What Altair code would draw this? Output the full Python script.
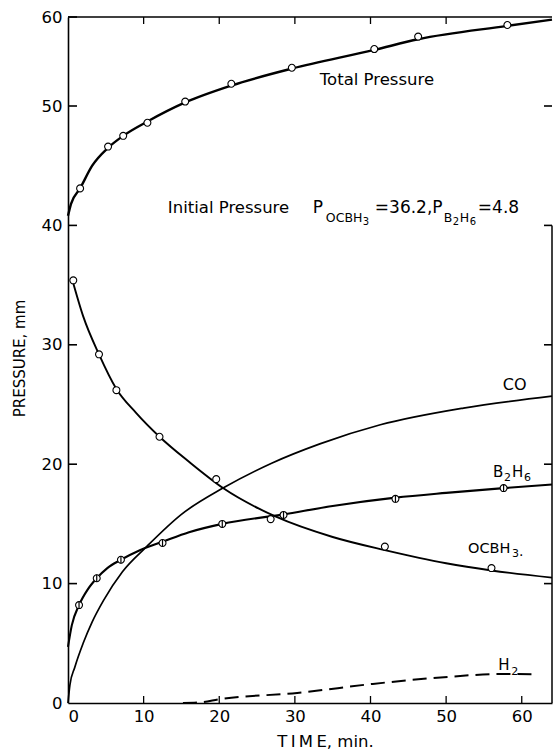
import altair as alt
import pandas as pd

# ---------------- data ----------------
# Total pressure: fitted curve and measured points
total_curve_t = [0, 0.4, 1.6, 3.2, 5.3, 7.3, 10.5, 15.5, 21.6, 29.6, 40.5, 46.3, 58.1, 64.0]
total_curve_p = [40.8, 41.8, 43.1, 45.0, 46.5, 47.5, 48.7, 50.4, 52.3, 54.2, 56.3, 57.5, 59.0, 59.7]
total_pts_t = [1.6, 5.3, 7.3, 10.5, 15.5, 21.6, 29.6, 40.5, 46.3, 58.1]
total_pts_p = [43.1, 46.6, 47.5, 48.6, 50.5, 52.5, 54.3, 56.4, 57.8, 59.1]

# OCBH3
ocbh3_curve_t = [0.5, 2.0, 4.1, 6.4, 9.0, 12.1, 16.0, 20.5, 27.5, 35.0, 41.9, 50.0, 56.0, 64.0]
ocbh3_curve_p = [35.6, 32.4, 29.2, 26.3, 24.3, 22.3, 20.2, 18.0, 15.6, 13.9, 12.8, 11.7, 11.1, 10.5]
ocbh3_pts_t = [0.7, 4.1, 6.4, 12.1, 19.6, 26.8, 41.9, 56.0]
ocbh3_pts_p = [35.4, 29.2, 26.2, 22.3, 18.75, 15.4, 13.1, 11.3]

# B2H6
b2h6_curve_t = [0, 0.5, 1.46, 2.6, 3.8, 5.2, 7.0, 9.5, 12.5, 16.0, 20.4, 28.5, 35.0, 43.3, 50.0, 57.6, 64.0]
b2h6_curve_p = [4.7, 6.5, 8.2, 9.5, 10.45, 11.3, 12.0, 12.8, 13.5, 14.3, 15.0, 15.8, 16.5, 17.2, 17.6, 18.0, 18.3]
b2h6_pts_t = [1.46, 3.8, 7.0, 12.5, 20.4, 28.5, 43.3, 57.6]
b2h6_pts_p = [8.2, 10.45, 12.0, 13.4, 15.0, 15.75, 17.1, 18.0]

# CO (curve only)
co_curve_t = [0, 0.25, 0.9, 2.0, 3.2, 4.7, 7.2, 10.4, 15.0, 20.5, 27.0, 33.3, 41.3, 52.3, 64.0]
co_curve_p = [0, 1.5, 3.0, 5.0, 6.8, 8.6, 11.0, 13.1, 15.8, 18.0, 20.1, 21.7, 23.3, 24.7, 25.7]

# H2 (dashed curve)
h2_curve_t = [15.2, 17.5, 20.1, 30.3, 40.3, 50.5, 57.1, 62.2]
h2_curve_p = [0.0, 0.06, 0.33, 0.84, 1.6, 2.2, 2.43, 2.4]

x_ticks = [0, 10, 20, 30, 40, 50, 60]
y_ticks = [0, 10, 20, 30, 40, 50, 60]

# ---------------- chart ----------------
FONT = "DejaVu Sans"
W, H = 484, 686
XTITLE = "T\u2009I\u2009M\u2009E, min."
YTITLE = "PRESSURE, mm"
xs = alt.Scale(domain=[0, 64.0], nice=False, zero=False)
ys = alt.Scale(domain=[0, 50, 60], range=[H, 89, 0], nice=False, zero=False)

x_axis = alt.Axis(values=x_ticks, ticks=False, domain=True, domainColor="black", domainWidth=1.6,
                  grid=False, labelFontSize=16.5,
                  labelPadding=5, labelFont=FONT, labelColor="black", title=XTITLE,
                  titleFont=FONT, titleFontSize=16.5, titleFontWeight="normal", titleColor="black",
                  titleX=257, titleY=38, titleBaseline="middle", titleAlign="center")
y_axis = alt.Axis(values=y_ticks, ticks=False, domain=True, domainColor="black", domainWidth=1.6,
                  grid=False, labelFontSize=16.5,
                  labelPadding=6, labelFont=FONT, labelColor="black", title=YTITLE,
                  titleFont=FONT, titleFontSize=15, titleFontWeight="normal", titleColor="black",
                  titleX=-49, titleY=341, titleBaseline="middle", titleAlign="center", titleAngle=270)


def curve_df(t, p):
    return pd.DataFrame({"t": t, "p": p})


def X():
    return alt.X("t:Q", scale=xs, axis=x_axis, title=XTITLE)


def Y():
    return alt.Y("p:Q", scale=ys, axis=y_axis, title=YTITLE)


layers = []


def line(t, p, width, dash=None):
    kw = dict(color="black", strokeWidth=width, interpolate="monotone")
    if dash:
        kw["strokeDash"] = dash
    return alt.Chart(curve_df(t, p)).mark_line(**kw).encode(x=X(), y=Y())


layers.append(line(total_curve_t, total_curve_p, 2.4))
layers.append(line(ocbh3_curve_t, ocbh3_curve_p, 1.9))
layers.append(line(b2h6_curve_t, b2h6_curve_p, 2.1))
layers.append(line(co_curve_t, co_curve_p, 1.7))
layers.append(line(h2_curve_t, h2_curve_p, 2.0, dash=[14, 7]))


def circles(t, p):
    return alt.Chart(curve_df(t, p)).mark_point(
        shape="circle", filled=True, fill="white", stroke="black", strokeWidth=1.1,
        size=48, opacity=1).encode(x=X(), y=Y())


layers.append(circles(total_pts_t, total_pts_p))
layers.append(circles(ocbh3_pts_t, ocbh3_pts_p))
layers.append(circles(b2h6_pts_t, b2h6_pts_p))
layers.append(alt.Chart(curve_df(b2h6_pts_t, b2h6_pts_p)).mark_point(
    shape="M0,-1L0,1", stroke="black", strokeWidth=1.2, size=55, opacity=1,
    filled=False).encode(x=X(), y=Y()))

# frame: top edge, and the right side (drawn from 40 downward as in the scan)
layers.append(alt.Chart(pd.DataFrame({"p": [60]})).mark_rule(color="black", strokeWidth=1.5).encode(
    y=Y(), x=alt.value(0), x2=alt.value(W)))
layers.append(alt.Chart(pd.DataFrame({"p": [40]})).mark_rule(color="black", strokeWidth=1.5).encode(
    x=alt.value(W), y=Y(), y2=alt.value(H)))

# inward tick marks on all four sides
xt = pd.DataFrame({"t": x_ticks[1:]})
yt = pd.DataFrame({"p": y_ticks[1:]})
layers.append(alt.Chart(xt).mark_rule(color="black", strokeWidth=1.3).encode(
    x=X(), y=alt.value(H), y2=alt.value(H - 7)))
layers.append(alt.Chart(xt[xt.t < 60]).mark_rule(color="black", strokeWidth=1.3).encode(
    x=X(), y=alt.value(0), y2=alt.value(7)))
layers.append(alt.Chart(yt).mark_rule(color="black", strokeWidth=1.6).encode(
    y=Y(), x=alt.value(0), x2=alt.value(9)))
layers.append(alt.Chart(yt[yt.p < 60]).mark_rule(color="black", strokeWidth=1.6).encode(
    y=Y(), x=alt.value(W), x2=alt.value(W - 8)))

# text annotations (parts: text, dx, dy, size)
one = pd.DataFrame({"a": [0]})


def label(x, y, parts):
    for txt, dx, dy, size in parts:
        layers.append(alt.Chart(one).mark_text(
            text=txt, align="left", baseline="alphabetic", dx=dx, dy=dy,
            fontSize=size, font=FONT, color="black").encode(
            x=alt.X(datum=x, scale=xs, axis=x_axis, title=XTITLE),
            y=alt.Y(datum=y, scale=ys, axis=y_axis, title=YTITLE)))


label(33.3, 52.4, [("Total Pressure", 0, 0, 16.5)])
label(13.2, 41.0, [("Initial Pressure", 0, 0, 16.5),
                   ("P", 145, 0, 17),
                   ("OCBH", 158, 9, 12.5), ("3", 195, 12, 10),
                   ("=36.2,P", 207, 0, 17),
                   ("B", 276, 9, 12.5), ("2", 285, 12, 10),
                   ("H", 292, 9, 12.5), ("6", 302, 12, 10),
                   ("=4.8", 310, 0, 17)])
label(57.5, 26.2, [("CO", 0, 0, 16)])
label(56.2, 18.95, [("B", 0, 0, 15), ("2", 11, 4, 11), ("H", 19, 0, 15), ("6", 31, 4, 11)])
label(52.9, 12.57, [("OCBH", 0, 0, 14.5), ("3", 44, 4, 11), (".", 51, 3, 14)])
label(56.9, 2.77, [("H", 0, 0, 15), ("2", 13, 5, 11)])

chart = alt.layer(*layers).properties(
    width=W, height=H,
    padding={"left": 68, "top": 17, "right": 1, "bottom": 48},
    autosize=alt.AutoSizeParams(type="none"),
    background="white",
).configure_view(stroke=None)

chart.save("out.html", embed_options={"renderer": "svg", "actions": False})
